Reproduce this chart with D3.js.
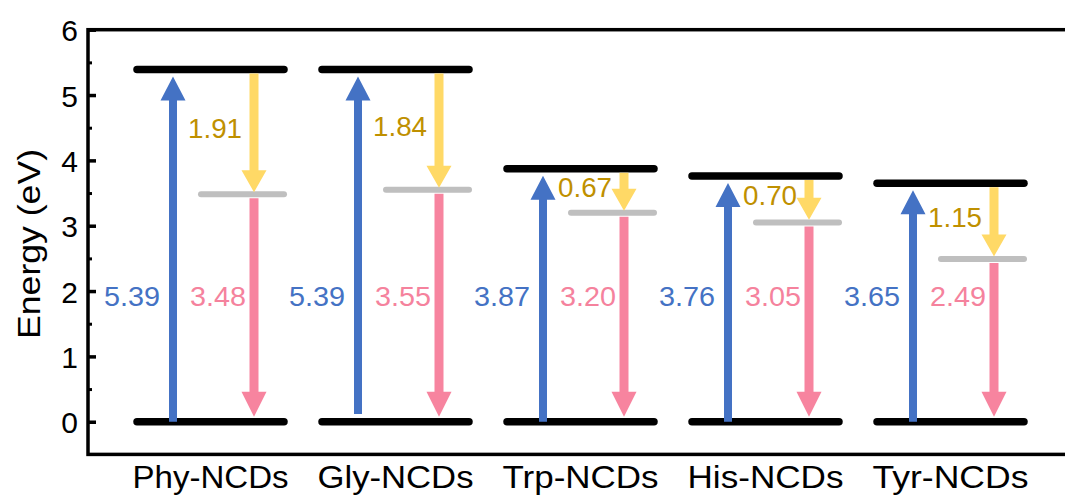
<!DOCTYPE html>
<html>
<head>
<meta charset="utf-8">
<script src="https://cdn.jsdelivr.net/npm/d3@7"></script>
<style>
  html, body { margin: 0; padding: 0; background: #fff; }
  svg { display: block; font-family: "Liberation Sans", Arial, sans-serif; }
</style>
</head>
<body>
<svg id="chart" width="1065" height="496"></svg>
<script>
// Energy levels of the carbon-dot samples (eV)
const categories = ["Phy-NCDs", "Gly-NCDs", "Trp-NCDs", "His-NCDs", "Tyr-NCDs"];
const excitation = [5.39, 5.39, 3.87, 3.76, 3.65];     // blue: ground -> upper level
const relaxation = [1.91, 1.84, 0.67, 0.70, 1.15];     // yellow: upper -> emitting level
const emission   = [3.48, 3.55, 3.20, 3.05, 2.49];     // pink: emitting level -> ground
const excitationStart = [0, 0.12, 0, 0, 0];            // origin of the blue arrows
const yTicks = [0, 1, 2, 3, 4, 5, 6];

const svg = d3.select("#chart");
const plotLeft = 88, plotTop = 29.7, plotBottom = 454.4, plotRight = 1072;

const y = d3.scaleLinear().domain([-0.5, 6]).range([plotBottom, plotTop]);
const x = d3.scaleBand().domain(categories).range([118, 1043]).paddingInner(38 / 185).paddingOuter(19 / 185);

const C = {
  blue: "#4472C4", yellow: "#FFD966", pink: "#F7849F", gray: "#BFBFBF",
  blueText: "#4472C4", yellowText: "#BF9000", pinkText: "#F5829D"
};

// frame
svg.append("rect")
  .attr("x", plotLeft).attr("y", plotTop)
  .attr("width", plotRight - plotLeft).attr("height", plotBottom - plotTop)
  .attr("fill", "none").attr("stroke", "#000").attr("stroke-width", 3.5);

// left axis ticks (inside) and labels
const axisG = svg.append("g").attr("transform", `translate(${plotLeft},0)`);
axisG.call(d3.axisRight(y).tickValues(yTicks).tickSize(8).tickFormat(""))
  .call(g => g.select(".domain").remove())
  .call(g => g.selectAll("line").attr("stroke", "#000").attr("stroke-width", 3.5));
axisG.append("g")
  .call(d3.axisRight(y).tickValues(d3.range(0.5, 6, 1)).tickSize(4).tickFormat(""))
  .call(g => g.select(".domain").remove())
  .call(g => g.selectAll("line").attr("stroke", "#000").attr("stroke-width", 3));

svg.append("g").selectAll("text").data(yTicks).join("text")
  .attr("x", 78).attr("y", d => y(d) + 1)
  .attr("text-anchor", "end").attr("dominant-baseline", "central")
  .attr("font-size", 30).attr("fill", "#000")
  .text(d => d);

svg.append("text")
  .attr("transform", `translate(40,${244}) rotate(-90)`)
  .attr("text-anchor", "middle")
  .attr("font-size", 31).attr("fill", "#000")
  .attr("textLength", 190).attr("lengthAdjust", "spacingAndGlyphs")
  .text("Energy (eV)");

// category labels
svg.append("g").selectAll("text").data(categories).join("text")
  .attr("x", d => x(d) + x.bandwidth() / 2)
  .attr("y", 488)
  .attr("text-anchor", "middle")
  .attr("font-size", 31).attr("fill", "#000")
  .attr("textLength", 156).attr("lengthAdjust", "spacingAndGlyphs")
  .text(d => d);

// vertical arrow: shaft + triangular head, from y0 to tip y1 (pixels)
function arrow(cx, y0, y1, shaftW, headW, headL) {
  const dir = y1 < y0 ? -1 : 1;
  const yb = y1 - dir * headL;
  return `M${cx - shaftW / 2},${y0} L${cx - shaftW / 2},${yb} L${cx - headW / 2},${yb} ` +
         `L${cx},${y1} L${cx + headW / 2},${yb} L${cx + shaftW / 2},${yb} L${cx + shaftW / 2},${y0} Z`;
}

const labelLevel = 1.92;

categories.forEach((cat, i) => {
  const g = svg.append("g");
  const x0 = x(cat), bw = x.bandwidth();
  const bx = x0 + 36, px = x0 + 117;
  const upper = excitation[i];
  const emit = emission[i];

  // ground and upper levels
  [0, upper].forEach(v => {
    g.append("line")
      .attr("x1", x0).attr("x2", x0 + bw)
      .attr("y1", y(v)).attr("y2", y(v))
      .attr("stroke", "#000").attr("stroke-width", 7.5).attr("stroke-linecap", "round");
  });
  // emitting level
  g.append("line")
    .attr("x1", x0 + 64).attr("x2", x0 + bw)
    .attr("y1", y(emit)).attr("y2", y(emit))
    .attr("stroke", C.gray).attr("stroke-width", 6).attr("stroke-linecap", "round");

  // excitation arrow
  g.append("path")
    .attr("d", arrow(bx, y(excitationStart[i]), y(upper) + 7, 8, 25, 24))
    .attr("fill", C.blue);
  // relaxation arrow
  g.append("path")
    .attr("d", arrow(px, y(upper) + 4, y(upper - relaxation[i]) - 2, 9, 25, 22))
    .attr("fill", C.yellow);
  // emission arrow
  g.append("path")
    .attr("d", arrow(px, y(emit) + 4, y(0) - 5, 9, 25, 25))
    .attr("fill", C.pink);

  // value labels
  g.append("text")
    .attr("x", bx - 13).attr("y", y(labelLevel))
    .attr("text-anchor", "end").attr("dominant-baseline", "central")
    .attr("font-size", 28).attr("fill", C.blueText)
    .attr("textLength", 56).attr("lengthAdjust", "spacingAndGlyphs")
    .text(upper.toFixed(2));
  g.append("text")
    .attr("x", px - 8).attr("y", y(labelLevel))
    .attr("text-anchor", "end").attr("dominant-baseline", "central")
    .attr("font-size", 28).attr("fill", C.pinkText)
    .attr("textLength", 56).attr("lengthAdjust", "spacingAndGlyphs")
    .text(emit.toFixed(2));
  g.append("text")
    .attr("x", px - 12).attr("y", y(upper - relaxation[i] / 2) - 3)
    .attr("text-anchor", "end").attr("dominant-baseline", "central")
    .attr("font-size", 28).attr("fill", C.yellowText)
    .attr("textLength", 54).attr("lengthAdjust", "spacingAndGlyphs")
    .text(relaxation[i].toFixed(2));
});
</script>
</body>
</html>
